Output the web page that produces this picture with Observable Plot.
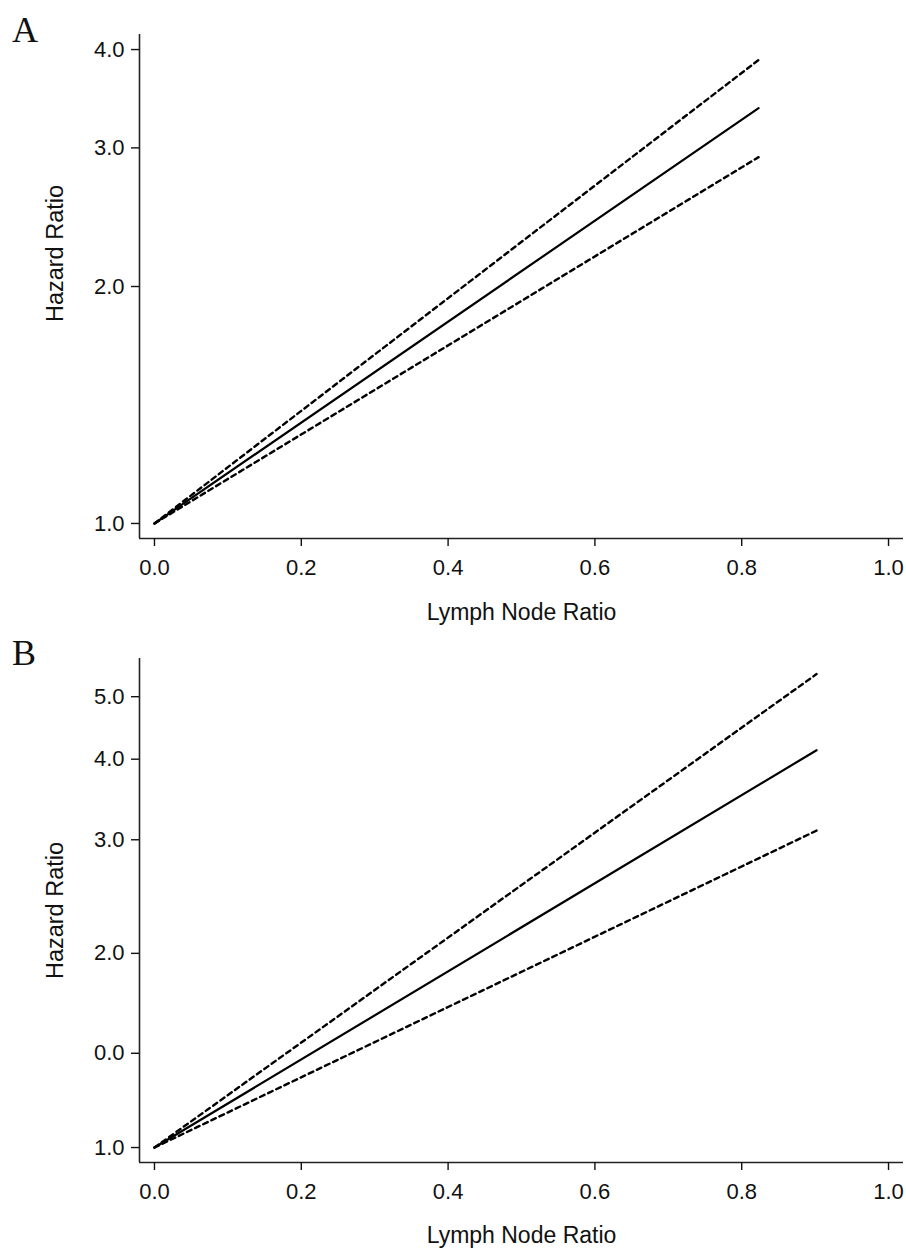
<!DOCTYPE html>
<html><head><meta charset="utf-8">
<script src="https://cdn.jsdelivr.net/npm/d3@7"></script>
<script src="https://cdn.jsdelivr.net/npm/@observablehq/plot@0.6"></script>
<style>
body{margin:0;background:#fff;}
.panel{position:relative;width:906px;}
.panel svg{display:block;}
.letter{position:absolute;left:12px;font-family:"Liberation Serif","Times New Roman",serif;font-size:36px;line-height:36px;color:#111;}
</style></head><body>
<div id="A" class="panel"><div class="letter" style="top:12px">A</div></div>
<div id="B" class="panel"><div class="letter" style="top:5px">B</div></div>
<script>
// Panel A: lymph node ratio vs hazard ratio (with 95% CI)
const lnrA = [0, 0.823];
const hrA = [1, 3.37];
const lowerA = [1, 2.92];
const upperA = [1, 3.88];
const yTicksA = [1, 2, 3, 4];
const yTickLabelsA = ["1.0", "2.0", "3.0", "4.0"];

// Panel B
const lnrB = [0, 0.902];
const hrB = [1, 4.13];
const lowerB = [1, 3.10];
const upperB = [1, 5.42];
const yTicksB = [1, 1.4, 2, 3, 4, 5];
const yTickLabelsB = ["1.0", "0.0", "2.0", "3.0", "4.0", "5.0"];

const xTicks = [0, 0.2, 0.4, 0.6, 0.8, 1.0];
const xTickLabels = ["0.0", "0.2", "0.4", "0.6", "0.8", "1.0"];
const xLabel = "Lymph Node Ratio";
const yLabel = "Hazard Ratio";

function panel(cfg) {
  const rows = cfg.lnr.map((x, i) => ({x, hr: cfg.hr[i], lo: cfg.lo[i], hi: cfg.hi[i]}));
  const xDomain = [-0.0204, 1.0204];
  return Plot.plot({
    width: 906,
    height: cfg.height,
    marginLeft: 139,
    marginRight: 3,
    marginTop: cfg.marginTop,
    marginBottom: cfg.marginBottom,
    style: {fontFamily: "'Liberation Sans', Arial, sans-serif", fontSize: "22px", color: "#111", background: "#fff"},
    x: {domain: xDomain},
    y: {type: "log", domain: cfg.yDomain},
    marks: [
      Plot.ruleX([xDomain[0]], {stroke: "#222", strokeWidth: 1.6}),
      Plot.ruleY([cfg.yDomain[0]], {stroke: "#222", strokeWidth: 1.6}),
      Plot.axisX({ticks: xTicks, tickFormat: d => xTickLabels[xTicks.indexOf(d)], tickSize: 8, tickPadding: 13, fontSize: 22, label: null, strokeWidth: 1.4}),
      Plot.axisY({ticks: cfg.yTicks, tickFormat: d => cfg.yTickLabels[cfg.yTicks.indexOf(d)], tickSize: 8, tickPadding: 7, fontSize: 22, label: null, strokeWidth: 1.4}),
      Plot.text([xLabel], {text: d => d, frameAnchor: "bottom", textAnchor: "middle", lineAnchor: "middle", dy: cfg.xLabelDy, fontSize: 23}),
      Plot.text([yLabel], {text: d => d, frameAnchor: "left", textAnchor: "middle", lineAnchor: "middle", rotate: -90, dx: -84, dy: cfg.yLabelDy, fontSize: 23.5}),
      Plot.line(rows, {x: "x", y: "hi", stroke: "#000", strokeWidth: 2.4, strokeDasharray: "5,4"}),
      Plot.line(rows, {x: "x", y: "lo", stroke: "#000", strokeWidth: 2.4, strokeDasharray: "5,4"}),
      Plot.line(rows, {x: "x", y: "hr", stroke: "#000", strokeWidth: 2.2})
    ]
  });
}

document.getElementById("A").appendChild(panel({
  lnr: lnrA, hr: hrA, lo: lowerA, hi: upperA,
  yTicks: yTicksA, yTickLabels: yTickLabelsA,
  yDomain: [0.957, 4.18], height: 630, marginTop: 34, marginBottom: 92,
  xLabelDy: 74.6, yLabelDy: -33
}));
document.getElementById("B").appendChild(panel({
  lnr: lnrB, hr: hrB, lo: lowerB, hi: upperB,
  yTicks: yTicksB, yTickLabels: yTickLabelsB,
  yDomain: [0.948, 5.73], height: 618, marginTop: 28, marginBottom: 86,
  xLabelDy: 73.6, yLabelDy: 0
}));
</script>
</body></html>
